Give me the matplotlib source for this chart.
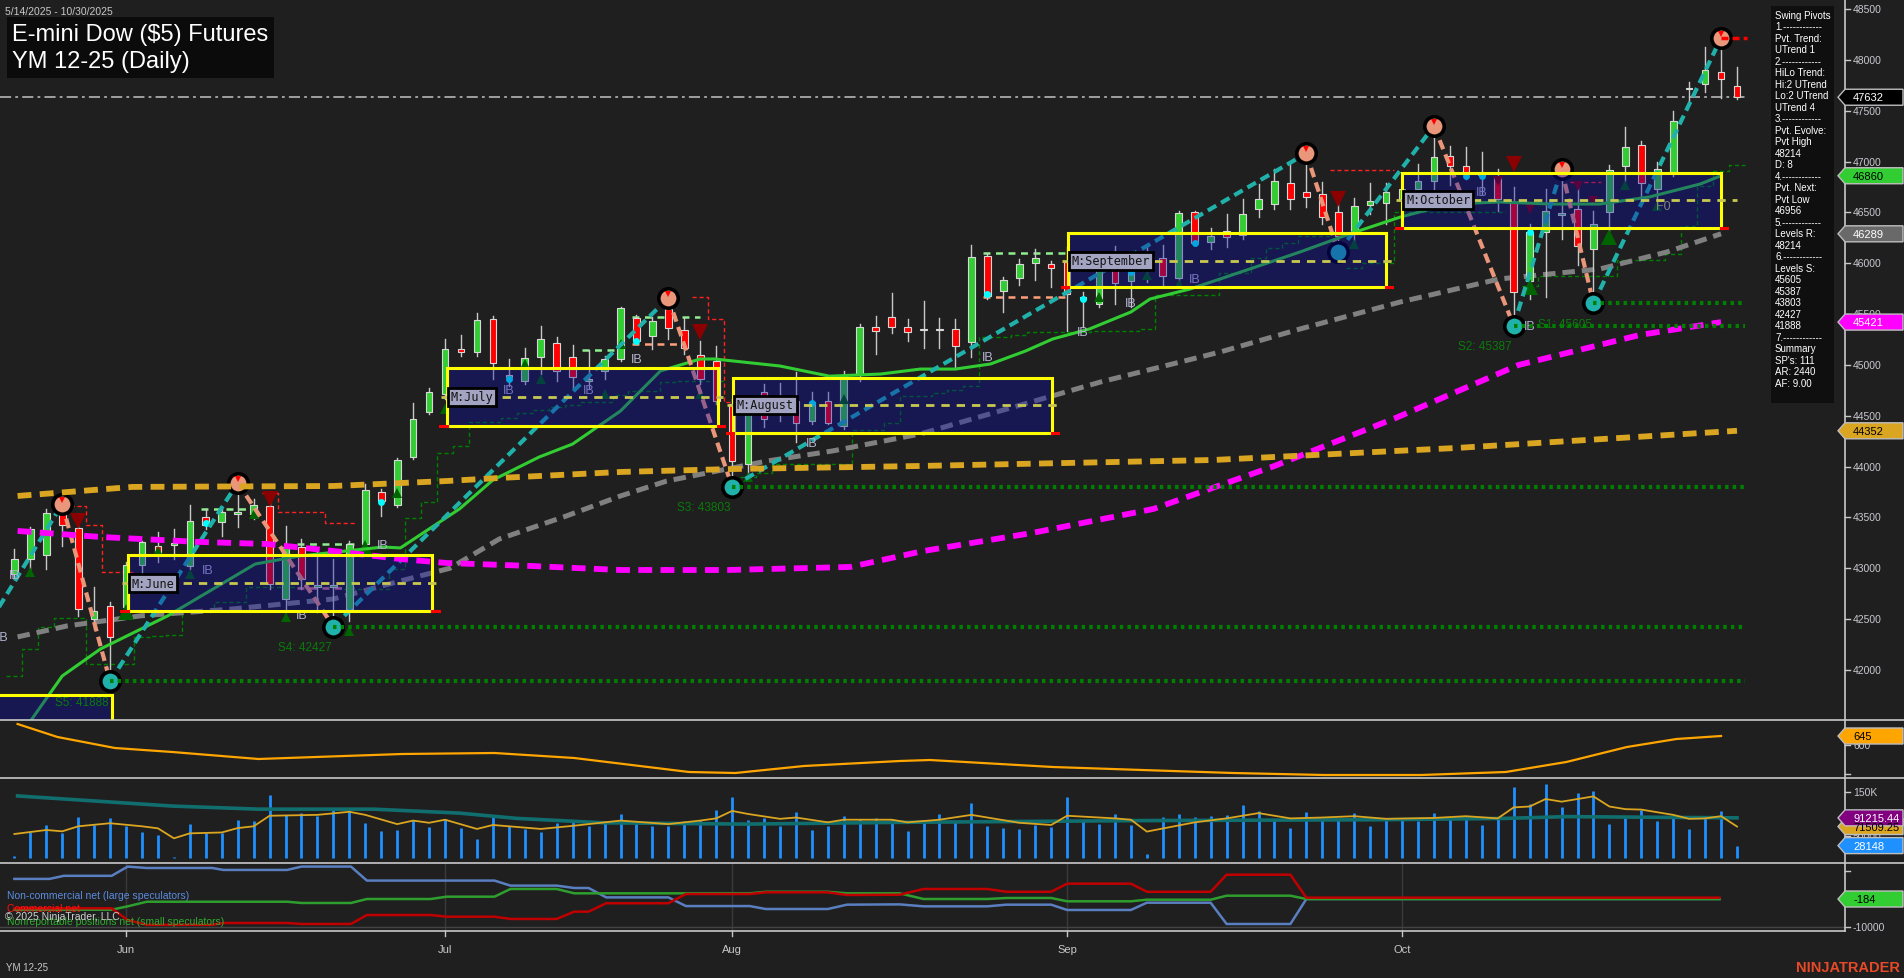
import numpy as np
import matplotlib
matplotlib.use("Agg")
import matplotlib.pyplot as plt
from matplotlib.patches import Rectangle, Polygon
from matplotlib.transforms import IdentityTransform
from matplotlib.lines import Line2D

plt.rcParams['font.family'] = ['Liberation Sans', 'DejaVu Sans']
plt.rcParams['lines.scale_dashes'] = False

# ---------------- DATA ----------------
title_line1 = "E-mini Dow ($5) Futures"
title_line2 = "YM 12-25 (Daily)"
date_range = "5/14/2025 - 10/30/2025"

month_labels = ["Jun", "Jul", "Aug", "Sep", "Oct"]
month_ticks = [7, 27, 45, 66, 87]

opens = [42944, 43091, 43131, 43534, 43396, 42502, 42629, 42620, 43032, 43219,
         43230, 43022, 43505, 43455, 43534, 43534, 43613, 42698, 43209, 42816,
         42816, 42600, 43239, 43750, 43622, 44094, 44537, 44714, 45156, 45127,
         45451, 44881, 44842, 45078, 45215, 45078, 44842, 44940, 45058, 45461,
         45284, 45550, 45343, 45097, 45038, 44616, 44025, 44734, 44596, 44645,
         44448, 44645, 44399, 44901, 45373, 45471, 45373, 45353, 45353, 45353,
         45225, 46071, 45727, 45855, 46002, 45992, 46012, 45648, 45599, 46002,
         45825, 45992, 46051, 45855, 46504, 46209, 46317, 46278, 46533, 46582,
         46789, 46700, 46681, 46504, 46287, 46572, 46592, 46631, 46730, 46808,
         47054, 46956, 46867, 46848, 46602, 45825, 46307, 46474, 46533, 46140,
         46504, 46956, 47162, 46730, 46887, 47713, 47762, 47880, 47743]
highs = [43190, 43406, 43583, 43632, 43514, 42816, 42669, 43060, 43268, 43357,
         43386, 43622, 43583, 43603, 43840, 43682, 43682, 43416, 43288, 43170,
         43091, 43268, 43829, 43780, 44085, 44625, 44773, 45255, 45294, 45510,
         45481, 45058, 45166, 45383, 45274, 45196, 45146, 45088, 45570, 45491,
         45471, 45658, 45461, 45235, 45186, 44665, 44665, 44812, 44822, 44930,
         44734, 44734, 44940, 45402, 45481, 45707, 45451, 45628, 45461, 45451,
         46179, 46100, 45864, 46041, 46140, 46022, 46159, 45717, 46022, 46169,
         45992, 46169, 46179, 46513, 46513, 46346, 46484, 46631, 46779, 46926,
         46976, 47080, 46799, 46582, 46641, 46789, 46789, 46828, 46976, 47349,
         47153, 47143, 47094, 46926, 46750, 46386, 46730, 46926, 46799, 46513,
         46966, 47339, 47202, 46996, 47497, 47782, 48126, 48214, 47929]
lows = [42895, 42973, 42993, 43219, 42531, 42403, 41888, 42580, 42767, 43062,
        43091, 42993, 43386, 43318, 43406, 43485, 42796, 42570, 42796, 42570,
        42427, 42480, 43209, 43514, 43603, 44075, 44517, 44665, 45088, 45088,
        44861, 44793, 44812, 44910, 44842, 44763, 44763, 44861, 45038, 45206,
        45156, 45255, 45107, 44812, 44616, 43803, 43927, 44389, 44448, 44242,
        44419, 44419, 44370, 44842, 45107, 45314, 45235, 45166, 45166, 44979,
        45078, 45648, 45520, 45785, 45835, 45766, 45333, 45373, 45570, 45599,
        45570, 45815, 45776, 45795, 46179, 46140, 46159, 46238, 46454, 46533,
        46533, 46553, 46386, 46110, 46189, 46484, 46386, 46582, 46631, 46730,
        46769, 46828, 46681, 46513, 45387, 45648, 45667, 46238, 45982, 45605,
        46317, 46808, 46631, 46533, 46858, 47566, 47683, 47625, 47615]
closes = [43091, 43386, 43544, 43426, 42600, 42580, 42325, 43030, 43259, 43150,
          43250, 43465, 43426, 43554, 43554, 43622, 42846, 43209, 42895, 42836,
          42836, 43239, 43770, 43662, 44065, 44468, 44734, 45156, 45127, 45442,
          45019, 44901, 45068, 45255, 44940, 44881, 44861, 45058, 45560, 45235,
          45432, 45363, 45166, 44861, 44645, 44055, 44616, 44468, 44645, 44429,
          44635, 44429, 44889, 45373, 45333, 45373, 45324, 45343, 45343, 45186,
          46061, 45677, 45835, 45992, 46051, 45953, 45697, 45667, 45992, 45805,
          45914, 46012, 45874, 46494, 46199, 46268, 46258, 46484, 46631, 46808,
          46631, 46651, 46454, 46268, 46563, 46612, 46700, 46730, 46808, 47044,
          46956, 46877, 46887, 46631, 45717, 46307, 46513, 46494, 46169, 46386,
          46917, 47143, 46789, 46926, 47398, 47723, 47900, 47811, 47632]
last_close = 47632

# moving averages (read at sample bars)
ma_green_x = [1.1, 3.0, 5.4, 9.6, 15.1, 17.9, 23.1, 24.2, 27.9, 30.0, 32.9, 35.0, 38.0, 40.5,
              43.0, 43.9, 48.0, 51.1, 54.3, 56.8, 59.0, 61.2, 63.4, 65.1, 67.4, 70.0, 71.2,
              73.7, 75.6, 80.6, 83.7, 86.9, 90.0, 93.1, 96.3, 99.4, 102.5, 105.7, 107.0]
ma_green_v = [41518, 41941, 42207, 42531, 43042, 43121, 43209, 43200, 43583, 43868, 44094,
              44222, 44547, 44940, 45058, 45058, 44989, 44889, 44910, 44959, 44959, 45009,
              45137, 45255, 45353, 45520, 45648, 45746, 45845, 46110, 46287, 46454, 46582,
              46602, 46582, 46582, 46651, 46779, 46860]
ma_gray_x = [0.2, 3.3, 7.9, 13.7, 20.0, 24.2, 27.3, 30.4, 34.6, 38.0, 40.9, 47.2, 51.3, 56.8,
             61.8, 68.1, 75.6, 80.6, 86.9, 93.1, 99.4, 103.6, 107.0]
ma_gray_v = [42325, 42433, 42532, 42600, 42698, 42875, 43000, 43288, 43514, 43711, 43858,
             44055, 44154, 44321, 44547, 44832, 45127, 45353, 45619, 45845, 45943, 46110, 46289]
ma_mag_x = [0.2, 5.4, 11.6, 15.8, 20.0, 24.2, 27.1, 32.5, 38.0, 44.7, 52.4, 57.0, 63.8, 71.4,
            79.0, 86.6, 94.3, 101.9, 107.0]
ma_mag_v = [43367, 43308, 43259, 43239, 43170, 43091, 43052, 43022, 42983, 42983, 43013,
            43170, 43347, 43583, 44006, 44478, 44999, 45294, 45421]
ma_org_x = [0.2, 7.4, 20.0, 27.1, 30.4, 38.0, 45.0, 56.8, 75.2, 90.4, 108.0]
ma_org_v = [43711, 43800, 43809, 43858, 43888, 43947, 43976, 44006, 44065, 44183, 44352]

# swing pivots (alternating low / high)
pivot_idx = [-3, 3, 6, 14, 20, 41, 45, 81, 83, 89, 94, 97, 99, 107]
pivot_px = [42100, 43632, 41888, 43840, 42427, 45658, 43803, 47080, 46110, 47349, 45387,
            46926, 45605, 48214]
pivot_is_high = [False, True, False, True, False, True, False, True, False, True, False,
                 True, False, True]

# support levels
s_names = ["S5", "S4", "S3", "S2", "S1"]
s_values = [41888, 42427, 43803, 45387, 45605]
s_start = [6, 20, 45, 94, 99]

# monthly value-area boxes
box_names = ["", "M:June", "M:July", "M:August", "M:September", "M:October"]
box_start = [-3.0, 7.1, 27.1, 45.05, 66.05, 87.0]
box_end = [6.1, 26.2, 44.1, 65.05, 86.0, 107.0]
box_top = [41754, 43131, 44970, 44871, 46297, 46887]
box_bot = [40500, 42580, 44399, 44330, 45766, 46346]
box_mid = [41100, 42855, 44685, 44606, 46022, 46622]

# trailing stops
green_stop = [41944, 42207, 42426, 42508, 42508, 42059, 42059, 42059, 42322, 42332,
              42345, 42583, 42583, 42665, 42665, 42813, 42813, 42813, 42813, 42813,
              42813, 42797, 42797, 42797, 42993, 43491, 43649, 44131, 44200, 44436,
              44436, 44478, 44524, 44557, 44583, 44606, 44632, 44632, 44707, 44740,
              44740, 44829, 44845, 44845, 44845, np.nan, 43894, 43934, 44025, 44025,
              44025, 44025, 44025, 44360, 44360, 44426, 44697, 44697, 44721, 44753,
              44790, 45274, 45274, 45294, 45327, 45327, 45327, 45327, 45337, 45337,
              45337, 45350, 45687, 45687, 45687, 45687, 45900, 45900, 46050, 46150,
              46200, 46271, 46271, np.nan, 45950, 46000, 46000, 46501, 46501, 46501,
              46501, 46501, 46501, 46501, np.nan, 45779, 45877, 45877, 45877, 45877,
              45877, 46032, 46032, 46032, 46089, 46369, 46762, 46904, 46966]
red_stop_idx = [4, 5, 6, 7, 16, 17, 18, 19, 20, 21, 43, 44, 45, 83, 84, 85, 86, 98, 99]
red_stop_val = [43610, 43426, 42961, 42961, 43736, 43557, 43557, 43557, 43442, 43442,
                45665, 45451, 44632, 46917, 46917, 46917, 46917, 46799, 46799]

# markers
up_tri_idx = [1, 7, 8, 9, 11, 15, 17, 21, 22, 24, 27, 32, 33, 37, 38, 43, 46, 52, 68, 71,
              73, 84, 95, 100, 101, 103]
up_tri_px = [42963, 42570, 42826, 43170, 42944, 43534, 42521, 42383, 43200, 43740, 44567,
             45009, 44861, 44714, 45206, 44714, 43898, 44665, 45668, 45884, 45795, 46189,
             45766, 46258, 46769, 46563]
up_tri_big = [7, 22, 95, 100]
dn_tri_idx = [4, 16, 43, 83, 93, 94, 95, 98, 99]
dn_tri_px = [43465, 43682, 45324, 46631, 46808, 46976, 46533, 46759, 46612]
dn_tri_big = [4, 16, 43, 83, 94]
cyan_idx = [12, 23, 31, 39, 50, 61, 67, 70, 74, 91, 92, 95]
cyan_px = [43445, 43652, 44861, 45235, 44626, 45697, 45648, 45914, 46199, 46858, 46858, 46307]
ib_idx = [0.04, -0.7, 12.1, 18.0, 23.1, 31.0, 36.0, 39.0, 50.0, 61.0, 67.0, 70.0, 74.0, 92.0, 95.0]
ib_px = [42931, 42325, 42983, 42541, 43229, 44753, 44753, 45058, 44232, 45078, 45324,
         45609, 45845, 46700, 45383]
ib_ranges = [(11.7, 14.5, 43583, '#90EE90'), (17.7, 21.4, 43239, '#90EE90'),
             (17.7, 21.4, 42806, '#DB7093'), (35.6, 38.0, 45150, '#90EE90'),
             (38.7, 43.0, 45474, '#90EE90'), (38.7, 41.7, 45206, '#FFA07A'),
             (60.7, 66.0, 46100, '#90EE90'), (60.7, 66.0, 45671, '#FFA07A')]

# lower panels
p2_x = [0.2, 2.7, 6.3, 9.9, 15.3, 20.7, 24.3, 30.1, 35.1, 38.7, 42.3, 45.2, 49.5, 55.5, 57.4,
        65.1, 70.7, 76.4, 82.1, 88.2, 93.5, 97.3, 101.1, 104.2, 107.0]
p2_v = [705, 640, 585, 565, 530, 545, 555, 560, 535, 500, 465, 460, 495, 520, 525, 490, 475,
        460, 450, 450, 465, 515, 590, 630, 645]

volume_k = [5, 58, 75, 57, 93, 75, 91, 73, 60, 52, 2, 77, 57, 57, 86, 83, 143, 98, 102, 96,
            113, 111, 80, 61, 64, 86, 71, 89, 68, 43, 95, 72, 66, 58, 80, 85, 72, 81, 100, 83,
            73, 73, 84, 86, 110, 138, 86, 91, 73, 105, 64, 73, 96, 89, 90, 89, 62, 80, 100, 81,
            125, 73, 68, 66, 75, 71, 139, 85, 77, 100, 75, 9, 93, 100, 94, 96, 98, 120, 107, 86,
            68, 105, 86, 92, 102, 73, 86, 91, 83, 102, 92, 95, 75, 92, 161, 123, 168, 115, 148,
            153, 77, 92, 110, 83, 96, 66, 95, 107, 28.148]
vfast_x = [0, 2, 3, 4, 6, 8, 9, 10, 11, 13, 14, 15, 16, 19, 21, 22, 24, 25, 26, 27, 29, 30, 33,
           35, 38, 41, 43, 44, 45, 46, 48, 49, 51, 52, 55, 56, 58, 60, 63, 65, 66, 69, 70, 71,
           74, 76, 78, 80, 82, 84, 86, 89, 91, 93, 94, 95, 96, 97, 99, 100, 101, 102, 104, 105,
           106, 107, 108]
vfast_k = [54.5, 63.6, 60.6, 72, 79, 72, 67.4, 44.7, 56, 58, 68, 72, 96, 98, 105, 98, 77, 85,
           80, 87, 66, 75, 66, 73, 85, 77, 85, 90, 107, 100, 89, 92, 81, 87, 87, 81, 87, 98,
           80, 75, 96, 90, 87, 60, 81, 90, 102, 90, 92, 95, 89, 91, 95, 90, 115, 117, 134,
           128, 140, 117, 111, 110, 98, 89, 90, 95, 71.509]
vslow_x = [0.2, 9.9, 15.3, 22.5, 27.9, 31.5, 36.9, 45.9, 55.5, 70.7, 85.9, 93.5, 97.3, 108]
vslow_k = [141, 118, 111, 111, 102, 90, 80, 77, 81, 85, 87, 90, 94, 91.215]

cot_blue_x = [0, 2.2, 3.1, 6.1, 7.1, 8.3, 12.4, 13.1, 17.1, 18.0, 21.1, 22.1, 30.1, 31.1, 34.0,
              35.1, 36.0, 37.1, 41.0, 42.1, 46.1, 47.1, 51.0, 52.2, 55.5, 57.0, 61.0, 62.2,
              65.0, 66.0, 70.0, 71.0, 75.0, 76.0, 80.0, 81.0, 106.9]
cot_blue_v = [7000, 7000, 8100, 8100, 11400, 10900, 10900, 10200, 10200, 11400, 11400, 6400,
              6400, 4600, 4600, 3750, 3750, 400, 400, -2700, -2700, -3750, -3750, -2200, -2100,
              -2800, -2800, -2200, -2200, -4100, -4100, -1500, -1500, -9100, -9100, -180, -180]
cot_red_x = [0, 6.1, 7.1, 8.3, 12.4, 13.1, 17.1, 18.0, 21.1, 22.1, 26.1, 27.1, 30.1, 31.1,
             34.0, 35.1, 36.0, 37.1, 41.0, 42.1, 46.1, 47.1, 51.0, 52.2, 55.5, 57.0, 61.0,
             62.2, 65.0, 66.0, 70.0, 71.0, 75.0, 76.0, 80.0, 81.0, 106.9]
cot_red_v = [-3500, -3500, -7700, -9400, -9400, -8750, -8750, -9100, -9100, -5900, -5900,
             -6500, -6500, -7300, -7300, -4700, -4700, -1700, -1700, 1600, 1600, 2200, 2200,
             1250, 1350, 3400, 3400, 2400, 2400, 5300, 5300, 2400, 2400, 8500, 8500, 300, 300]
cot_green_x = [0, 6.1, 7.1, 8.3, 17.1, 18.0, 21.1, 22.1, 26.1, 27.1, 30.1, 31.1, 34.0, 35.1,
               46.1, 47.1, 51.0, 52.2, 55.5, 57.0, 61.0, 62.2, 65.0, 66.0, 70.0, 71.0, 75.0,
               76.0, 80.0, 81.0, 106.9]
cot_green_v = [-4000, -4000, -2800, -1150, -1150, -1600, -1600, -180, -180, 650, 650, 3400,
               3400, 1850, 1850, 2400, 2400, 1850, 1850, -180, -180, 180, 180, -1000, -1000,
               -430, -430, 1000, 1000, -184, -184]

info_lines = ["Swing Pivots", "1.------------", "Pvt. Trend:", "UTrend 1", "2.------------",
              "HiLo Trend:", "Hi:2 UTrend", "Lo:2 UTrend", "UTrend 4", "3.------------",
              "Pvt. Evolve:", "Pvt High", "48214", "D: 8", "4.------------", "Pvt. Next:",
              "Pvt Low", "46956", "5.------------", "Levels R:", "48214", "6.------------",
              "Levels S:", "45605", "45387", "43803", "42427", "41888", "7.------------",
              "Summary", "SP's: 111", "AR: 2440", "AF: 9.00"]

# ---------------- LAYOUT ----------------
W, H = 1904, 979
BG = '#1f1f1f'
fig = plt.figure(figsize=(W / 100, H / 100), dpi=100, facecolor=BG)
ID = IdentityTransform()

X0_PIX, BAR_PIX, AX_RIGHT = 14.4, 15.95, 1845
XMIN = (0 - X0_PIX) / BAR_PIX
XMAX = (AX_RIGHT - X0_PIX) / BAR_PIX


def make_ax(top, bottom, ylo, yhi):
    ax = fig.add_axes([0, 1 - bottom / H, AX_RIGHT / W, (bottom - top) / H])
    ax.set_xlim(XMIN, XMAX)
    ax.set_ylim(ylo, yhi)
    ax.axis('off')
    return ax


ax1 = make_ax(0, 721, 41508, 48598)
ax2 = make_ax(721, 779, 435, 725)
ax3 = make_ax(779, 864, -11400, 181800)
ax4 = make_ax(864, 932, -11607, 12679)


def step_xy(vals):
    xs, ys = [], []
    prev = False
    for i, v in enumerate(vals):
        if v is None or np.isnan(v):
            if prev:
                xs.append(np.nan); ys.append(np.nan)
            prev = False
            continue
        xs += [i - 0.5, i + 0.5]; ys += [v, v]
        prev = True
    return xs, ys


# ---------------- MAIN PANEL ----------------
gx, gy = step_xy(green_stop)
ax1.plot(gx, gy, color='#008000', lw=1.0, dashes=(3, 2), zorder=1.5)
rs = [np.nan] * len(closes)
for i, v in zip(red_stop_idx, red_stop_val):
    rs[i] = v
rx, ry = step_xy(rs)
ax1.plot(rx, ry, color='#FF2020', lw=1.0, dashes=(3, 2), zorder=1.5)

for (a, b, v, c) in ib_ranges:
    ax1.plot([a, b], [v, v], color=c, lw=1.8, dashes=(5, 4), zorder=1.6)

ax1.plot([XMIN, 108.5], [last_close, last_close], color='#A0A0A0', lw=1.4,
         dashes=(8, 3, 2, 3), zorder=1.4)

ax1.plot(ma_gray_x, ma_gray_v, color='#808080', lw=3.6, dashes=(9, 5), zorder=1.8)
ax1.plot(ma_green_x, ma_green_v, color='#32CD32', lw=2.2, zorder=3.2)

for i, (o, h, l, c) in enumerate(zip(opens, highs, lows, closes)):
    col = '#32CD32' if c >= o else '#FF0000'
    ax1.plot([i, i], [l, h], color='#C8C8C8', lw=1.0, zorder=2)
    bot = min(o, c)
    ht = max(abs(c - o), 14)
    ax1.add_patch(Rectangle((i - 0.21, bot), 0.42, ht, facecolor=col,
                            edgecolor='#D8D8D8', lw=0.8, zorder=2.5))

for i, p in zip(up_tri_idx, up_tri_px):
    ax1.plot(i, p, marker='^', ms=11 if i in up_tri_big else 7, color='#006400', zorder=2.6,
             markeredgewidth=0)
for i, p in zip(dn_tri_idx, dn_tri_px):
    ax1.plot(i, p, marker='v', ms=12 if i in dn_tri_big else 7, color='#8B0000', zorder=2.6,
             markeredgewidth=0)
ax1.plot(cyan_idx, cyan_px, 'o', ms=5, color='#00FFFF', zorder=2.7, markeredgewidth=0)

for k in range(len(pivot_idx) - 1):
    up = not pivot_is_high[k]
    ax1.plot([pivot_idx[k], pivot_idx[k + 1]], [pivot_px[k], pivot_px[k + 1]],
             color='#20B2AA' if up else '#E9967A', lw=3.0, dashes=(7, 4), zorder=3.5)
for i, p, hi in zip(pivot_idx, pivot_px, pivot_is_high):
    ax1.plot(i, p, 'o', ms=14, mfc='#E9967A' if hi else '#20B2AA', mec='black', mew=2.6,
             zorder=3.6)
    if hi:
        ax1.plot(i, p + 40, marker='v', ms=4.5, color='#FF0000', zorder=3.7, mew=0)

for i, p in zip(ib_idx, ib_px):
    ax1.text(i, p, "IB", color='#B4B4D2', fontsize=9, ha='center', va='center', zorder=3.8)
ax1.text(103.4, 46563, "F0", color='#C8C864', fontsize=9, ha='center', va='center', zorder=3.8)

for name, s, e, t, b, m in zip(box_names, box_start, box_end, box_top, box_bot, box_mid):
    ax1.add_patch(Rectangle((s, b), e - s, t - b, facecolor=(10 / 255, 10 / 255, 170 / 255),
                            alpha=0.37, edgecolor='none', zorder=5))
    ax1.add_patch(Rectangle((s, b), e - s, t - b, facecolor='none', edgecolor='#FFFF00',
                            lw=2.2, zorder=8))
    ax1.plot([e, e + 0.4], [b, b], color='#FF0000', lw=2.2, zorder=8)
    ax1.plot([s - 0.4, s], [b, b], color='#FF0000', lw=2.2, zorder=8)
    if name:
        ax1.plot([s - 0.35, e + 1.0 if name == "M:October" else e + 0.35], [m, m],
                 color='#C8C850', lw=2.0, dashes=(6, 5), zorder=8)
        ax1.text(s + 0.25, m, name, family='DejaVu Sans Mono', fontsize=8.5, color='#151515',
                 ha='left', va='center', zorder=9,
                 bbox=dict(boxstyle='square,pad=0.22', facecolor='#A3A3C2', edgecolor='black',
                           lw=2.0))

ax1.plot(ma_mag_x, ma_mag_v, color='#FF00FF', lw=4.2, dashes=(10, 6), zorder=6)
ax1.plot(ma_org_x, ma_org_v, color='#DAA520', lw=4.2, dashes=(10, 6), zorder=6)

for nm, v, s in zip(s_names, s_values, s_start):
    ax1.plot([s, 108.5], [v, v], color='#008000', lw=3.0, dashes=(2.5, 3), zorder=6.5)
    ax1.text(s - 0.1, v - 200, f"{nm}: {v}", color='#0A7A0A', fontsize=8.5, ha='right',
             va='center', zorder=6.6)

ax1.plot([107, 108.6], [48214, 48214], color='#FF0000', lw=2.5, dashes=(5, 3), zorder=6.5)

# ---------------- PANEL 2 ----------------
ax2.plot(p2_x, p2_v, color='#FFA500', lw=1.6)

# ---------------- PANEL 3 (volume) ----------------
vol = [v * 1000 for v in volume_k]
ax3.vlines(range(len(vol)), 0, vol, color='#1E90FF', lw=2.0)
ax3.plot(vslow_x, [v * 1000 for v in vslow_k], color='#116E6E', lw=2.6)
ax3.plot(vfast_x, [v * 1000 for v in vfast_k], color='#DAA520', lw=1.3)

# ---------------- PANEL 4 (COT) ----------------
for t in month_ticks:
    ax4.axvline(t, color='#3a3a3a', lw=1)
ax4.axhline(-10000, color='#444444', lw=1)
ax4.plot(cot_blue_x, cot_blue_v, color='#5A7FC0', lw=1.8)
ax4.plot(cot_green_x, cot_green_v, color='#2E9E2E', lw=1.8)
ax4.plot(cot_red_x, cot_red_v, color='#C00000', lw=1.8)

fig.text(7, H - 896, "Non-commercial net (large speculators)", color='#5B8BDD', fontsize=7.5,
         va='center', transform=ID)
fig.text(7, H - 922, "Nonreportable positions net (small speculators)", color='#2EAD2E',
         fontsize=7.5, va='center', transform=ID)
fig.text(7, H - 909, "Commercial net", color='#FF1010', fontsize=7.5, va='center', transform=ID)
fig.text(5, H - 917, "\u00a9 2025 NinjaTrader, LLC", color='#D0D0D0', fontsize=7.5, va='center',
         transform=ID)

# ---------------- FRAME / AXES ----------------
for yy, xr in [(721, W), (779, W), (864, W), (932, AX_RIGHT)]:
    fig.add_artist(Line2D([0, xr], [H - yy, H - yy], color='#C8C8C8', lw=1.2, transform=ID))
fig.add_artist(Line2D([AX_RIGHT, AX_RIGHT], [H - 932, H], color='#C8C8C8', lw=1.2, transform=ID))


def disp_y(ax, v):
    return ax.transData.transform((0, v))[1]


def tick(ax, v, label):
    y = disp_y(ax, v)
    fig.add_artist(Line2D([AX_RIGHT, AX_RIGHT + 5], [y, y], color='#C8C8C8', lw=1, transform=ID))
    if label:
        fig.text(AX_RIGHT + 8, y, label, color='#C8C8D0', fontsize=7.5, va='center',
                 ha='left', transform=ID)


for v in range(42000, 48501, 500):
    tick(ax1, v, str(v))
tick(ax2, 600, "600")
tick(ax2, 455, "")
tick(ax3, 150000, "150K")
tick(ax3, 50000, "50000")
tick(ax4, 10000, "")
tick(ax4, -10000, "-10000")


def val_label(ax, v, fc, tc, txt):
    y = disp_y(ax, v)
    h = 8
    pts = [(AX_RIGHT - 7, y), (AX_RIGHT, y + h), (W - 1, y + h), (W - 1, y - h), (AX_RIGHT, y - h)]
    fig.add_artist(Polygon(pts, closed=True, facecolor=fc, edgecolor='#BEBEBE', lw=1,
                           transform=ID, zorder=10))
    fig.text(AX_RIGHT + 8, y, txt, color=tc, fontsize=8, va='center', ha='left',
             transform=ID, zorder=11)


val_label(ax1, 47632, '#000000', 'white', '47632')
val_label(ax1, 46860, '#32CD32', 'black', '46860')
val_label(ax1, 46289, '#696969', 'white', '46289')
val_label(ax1, 45421, '#FF00FF', 'white', '45421')
val_label(ax1, 44352, '#DAA520', 'black', '44352')
val_label(ax2, 645, '#FFA500', 'black', '645')
val_label(ax3, 71509.25, '#DAA520', 'black', '71509.25')
val_label(ax3, 91215.44, '#800080', 'white', '91215.44')
val_label(ax3, 28148, '#1E90FF', 'white', '28148')
val_label(ax4, -184, '#32CD32', 'black', '-184')

for t, lab in zip(month_ticks, month_labels):
    xp = X0_PIX + BAR_PIX * t
    fig.add_artist(Line2D([xp, xp], [H - 932, H - 937], color='#C8C8C8', lw=1, transform=ID))
    fig.text(xp, H - 950, lab, color='#C8C8C8', fontsize=8, ha='center', va='center',
             transform=ID)

# title
fig.add_artist(Rectangle((7, H - 79), 267, 61, facecolor='#0b0b0b', edgecolor='none',
                         transform=ID, zorder=10))
fig.text(12, H - 35, title_line1, color='white', fontsize=17, va='center', transform=ID,
         zorder=11)
fig.text(12, H - 62, title_line2, color='white', fontsize=17, va='center', transform=ID,
         zorder=11)
fig.text(5, H - 12, date_range, color='#C8C8C8', fontsize=7.5, va='center', transform=ID,
         zorder=11)

# info panel
fig.add_artist(Rectangle((1771, H - 404), 63, 397, facecolor='#0f0f0f', edgecolor='none',
                         transform=ID, zorder=10))
for k, line in enumerate(info_lines):
    fig.text(1775, H - (16 + 11.5 * k), line, color='white', fontsize=7, va='center',
             transform=ID, zorder=11)

fig.text(6, H - 968, "YM 12-25", color='#C8C8C8', fontsize=7, va='center', transform=ID)
fig.text(1900, H - 968, "NINJATRADER", color='#E84A27', fontsize=10.5, fontweight='bold',
         ha='right', va='center', transform=ID)

fig.savefig("out.png", dpi=100, facecolor=BG)
